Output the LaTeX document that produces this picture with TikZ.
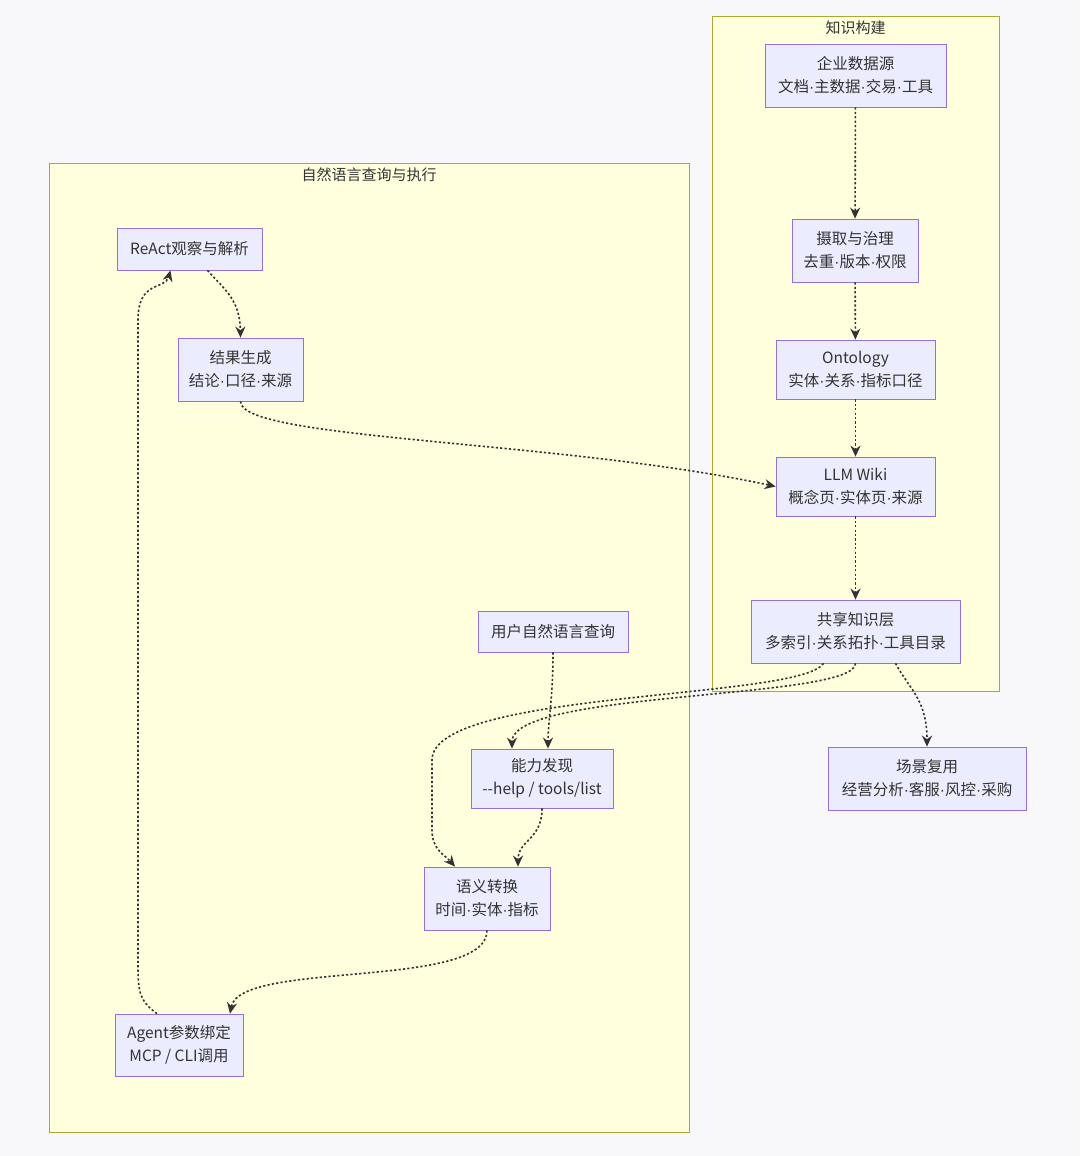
\documentclass[tikz,border=0pt]{standalone}
\usepackage{fontspec}
\setmainfont{Noto Sans CJK SC}
\newfontfamily\lat{Liberation Sans}
\newcommand{\md}{{\lat ·}}
\usetikzlibrary{arrows.meta}
\definecolor{bg}{HTML}{F8F8FA}
\definecolor{clf}{HTML}{FFFFDE}
\definecolor{cld}{HTML}{AAAA33}
\definecolor{ndf}{HTML}{ECECFF}
\definecolor{ndd}{HTML}{9370DB}
\definecolor{ln}{HTML}{333333}
\begin{document}
\begin{tikzpicture}[x=1pt,y=-1pt,
  cl/.style={draw=cld,fill=clf,line width=0.8pt},
  cllab/.style={font=\fontsize{15}{18}\selectfont,text=ln},
  nd/.style={draw=ndd,fill=ndf,line width=0.8pt,align=center,font=\fontsize{15.5}{23}\selectfont,text=ln,inner sep=0pt},
  ar/.style={draw=ln,line width=1.6pt,dash pattern=on 2.2pt off 2.2pt,-{Stealth[length=11pt,width=10pt,line cap=butt,fill=ln]}}]
\fill[bg] (0,0) rectangle (1080,1156);
\draw[cl] (712,16) rectangle (999,691);
\node[cllab] (t1) at (855.5,28) {知识构建};
\draw[cl] (49,163) rectangle (689,1132);
\node[cllab] (t2) at (369,175) {自然语言查询与执行};
\newcommand{\nb}[6]{\node[nd,minimum width=#4,minimum height=#5] (#1) at (#2,#3) {#6};}
\nb{a}{855.5}{75.5}{181pt}{63pt}{企业数据源\\文档\md 主数据\md 交易\md 工具}
\nb{b}{855}{250.5}{126pt}{63pt}{摄取与治理\\去重\md 版本\md 权限}
\nb{c}{855.5}{369.5}{159pt}{59pt}{Ontology\\实体\md 关系\md 指标口径}
\nb{d}{855.5}{486.5}{159pt}{59pt}{LLM Wiki\\概念页\md 实体页\md 来源}
\nb{e}{855.5}{631.5}{209pt}{63pt}{共享知识层\\多索引\md 关系拓扑\md 工具目录}
\nb{f}{927}{778.5}{198pt}{63pt}{场景复用\\经营分析\md 客服\md 风控\md 采购}
\nb{g}{189.5}{249}{145pt}{42pt}{ReAct观察与解析}
\nb{h}{240.5}{369.5}{125pt}{63pt}{结果生成\\结论\md 口径\md 来源}
\nb{u}{553}{631.5}{150pt}{41pt}{用户自然语言查询}
\nb{k}{542}{778.5}{142pt}{59pt}{能力发现\\-{}-help / tools/list}
\nb{s}{487}{898.5}{126pt}{63pt}{语义转换\\时间\md 实体\md 指标}
\nb{m}{179}{1045}{128pt}{62pt}{Agent参数绑定\\MCP / CLI调用}
\draw[ar] (a) -- (b);
\draw[ar] (b) -- (c);
\draw[ar] (c) -- (d);
\draw[ar] (d) -- (e);
\draw[ar] ([xshift=40pt]e.south) .. controls (910,690) and (927,700) .. (f.north);
\draw[ar] (e.south) .. controls (855,700) and (512,690) .. ([xshift=-30pt]k.north);
\draw[ar] ([xshift=-32pt]e.south) .. controls (800,700) and (432,690) .. (432,760) -- (432,830) .. controls (432,850) and (445,855) .. ([xshift=-32pt]s.north);
\draw[ar] (u.south) .. controls (553,700) and (548,720) .. ([xshift=6pt]k.north);
\draw[ar] (k.south) .. controls (542,840) and (518,840) .. ([xshift=31pt]s.north);
\draw[ar] (s.south) .. controls (487,990) and (240,960) .. ([xshift=51pt]m.north);
\draw[ar] ([xshift=-22pt]m.north) .. controls (138,1000) and (138,990) .. (138,960) -- (138,320) .. controls (138,280) and (165,290) .. ([xshift=-19pt]g.south);
\draw[ar] ([xshift=18pt]g.south) .. controls (225,290) and (240,300) .. (h.north);
\draw[ar] (h.south) .. controls (240,440) and (560,440) .. (d.west);
\end{tikzpicture}
\end{document}
